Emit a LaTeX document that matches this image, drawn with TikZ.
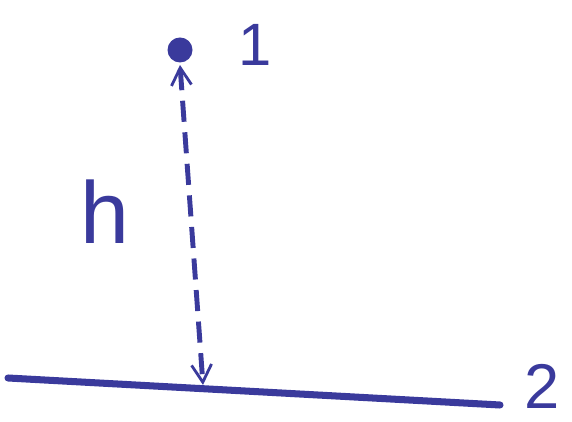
\documentclass[tikz,border=0pt]{standalone}
\usepackage{fontspec}
\setmainfont{Liberation Sans}
\usetikzlibrary{arrows.meta}
\definecolor{inkblue}{HTML}{3A3A9C}

\begin{document}
\begin{tikzpicture}[>={Straight Barb[length=3.5mm, width=4mm, line width=1.6pt]}, line width=2.8pt, inkblue]

% Canvas
\useasboundingbox (0,0) rectangle (11.44,8.44);

% Point 1
\node[circle, fill=inkblue, draw=none, minimum size=0.5cm, inner sep=0pt] (pt) at (3.6,7.44) {};
\node[text=inkblue, font=\fontsize{34}{34}\selectfont] (lblone) at (5.1,7.54) {1};

% Ground line 2
\coordinate (gl) at (0.16,0.88);
\coordinate (gr) at (10.0,0.34);
\draw[line width=4pt, line cap=round] (gl) -- (gr);
\node[text=inkblue, font=\fontsize{36}{36}\selectfont] (lbltwo) at (10.85,0.72) {2};

% Height arrow
\coordinate (foot) at (4.06,0.74);
\draw[<->, dash pattern=on 12pt off 6pt] (pt.south) -- (foot);
\node[text=inkblue, font=\fontsize{50}{50}\selectfont] (lblh) at (2.1,4.2) {h};

\end{tikzpicture}
\end{document}
